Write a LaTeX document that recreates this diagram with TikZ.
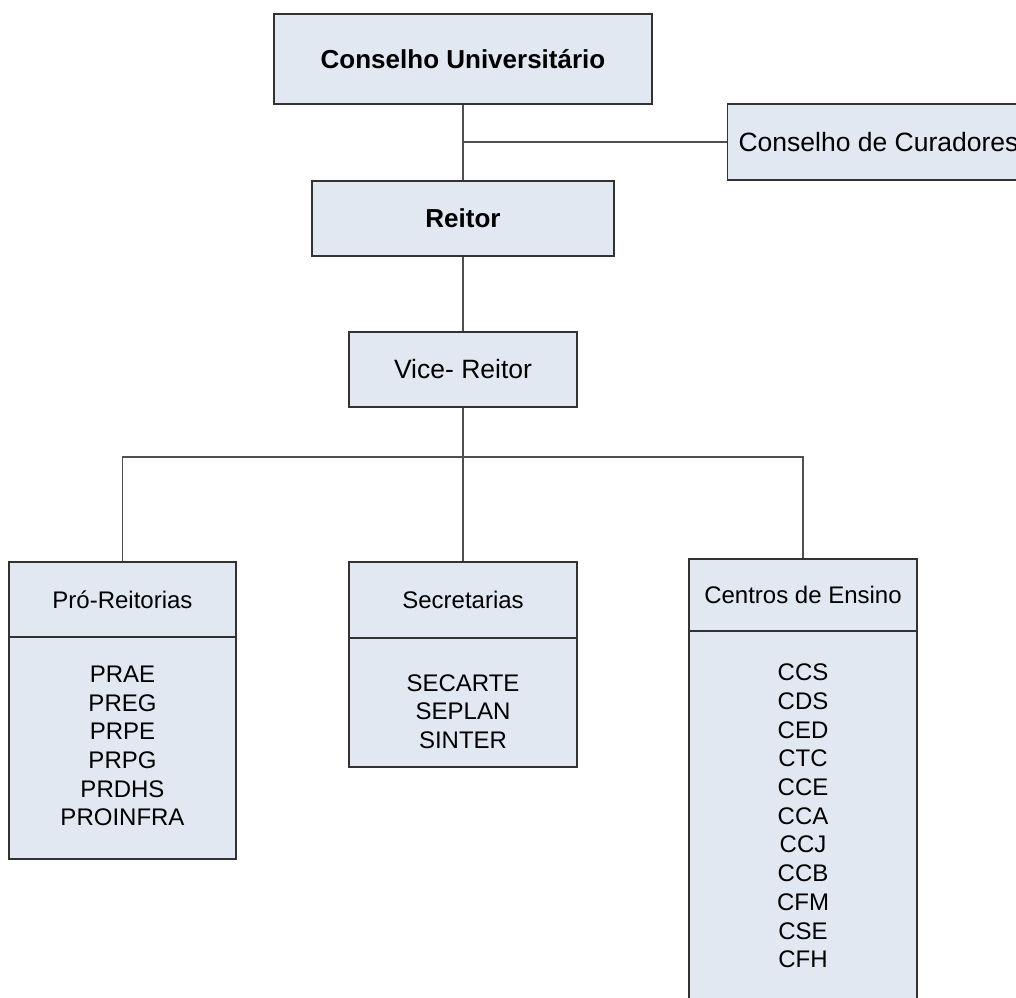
\documentclass[tikz,border=0pt]{standalone}
\usepackage{fontspec}
\setmainfont{Liberation Sans}
\definecolor{boxfill}{RGB}{225,232,241}
\definecolor{boxline}{RGB}{50,50,50}
\definecolor{connline}{RGB}{80,80,80}
\newcommand{\bigb}{\fontsize{26}{30}\selectfont\bfseries}
\newcommand{\bign}{\fontsize{26.5}{30}\selectfont}
\newcommand{\smn}{\fontsize{24}{28.7}\selectfont}
\begin{document}
\begin{tikzpicture}[x=1pt,y=-1pt,
  box/.style={draw=boxline, fill=boxfill, line width=1.2pt, inner sep=0pt,
    text depth=0pt},
  bigbox/.style={box, text height=18.8pt},
  smbox/.style={box, text height=17.2pt, font=\smn},
  bodytext/.style={inner sep=0pt, align=center, font=\smn},
  conn/.style={draw=connline, line width=1.2pt}]
\useasboundingbox (0,0) rectangle (1016,997);

% top level
\node[bigbox, minimum width=378pt, minimum height=90pt, font=\bigb] (cu) at (463,59) {Conselho Universitário};
\node[bigbox, anchor=west, minimum height=76pt, inner xsep=11pt, font=\bign] (cc) at (727,142) {Conselho de Curadores};
\node[bigbox, minimum width=302pt, minimum height=75pt, font=\bigb] (re) at (463,218.5) {Reitor};
\node[bigbox, minimum width=228pt, minimum height=75pt, font=\bign] (vr) at (463,369.5) {Vice- Reitor};

% Pró-Reitorias
\node[box, minimum width=227pt, minimum height=222pt] (prob) at (122.5,748) {};
\node[smbox, minimum width=227pt, minimum height=75pt] (prot) at (122.5,599.5) {Pró-Reitorias};
\node[bodytext] (protxt) at (122.5,746) {PRAE\\PREG\\PRPE\\PRPG\\PRDHS\\PROINFRA};

% Secretarias
\node[box, minimum width=228pt, minimum height=129pt] (secb) at (463,702.5) {};
\node[smbox, minimum width=228pt, minimum height=76pt] (sect) at (463,600) {Secretarias};
\node[bodytext] (sectxt) at (463,711.5) {SECARTE\\SEPLAN\\SINTER};

% Centros de Ensino
\node[box, minimum width=228pt, minimum height=372pt] (cenb) at (803,817) {};
\node[smbox, minimum width=228pt, minimum height=72pt] (cent) at (803,595) {Centros de Ensino};
\node[bodytext] (centxt) at (803,816) {CCS\\CDS\\CED\\CTC\\CCE\\CCA\\CCJ\\CCB\\CFM\\CSE\\CFH};

% connectors
\coordinate (bus) at (463,457);
\draw[conn] (cu.south) -- (re.north);
\draw[conn] (cu.south |- cc.west) -- (cc.west);
\draw[conn] (re.south) -- (vr.north);
\draw[conn] (vr.south) -- (sect.north);
\draw[conn] (prot.north) -- (prot.north |- bus) -- (cent.north |- bus) -- (cent.north);
\end{tikzpicture}
\end{document}
